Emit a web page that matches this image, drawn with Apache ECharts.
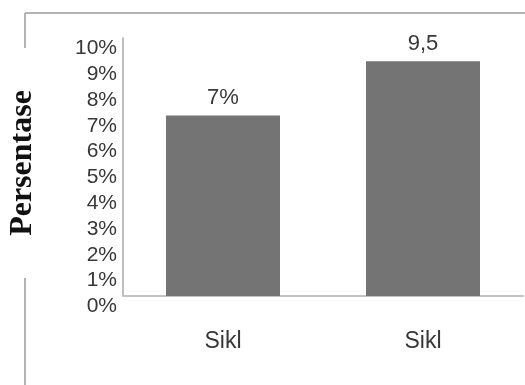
<!DOCTYPE html>
<html>
<head>
<meta charset="utf-8">
<script src="https://cdn.jsdelivr.net/npm/echarts@6/dist/echarts.min.js"></script>
<style>
html,body{margin:0;padding:0;background:#fff;}
#chart{width:525px;height:385px;}
</style>
</head>
<body>
<div id="chart"></div>
<script>
const categories = ["Sikl", "Sikl"];
const values = [7, 9.1];
const valueLabels = ["7%", "9,5"];
const yTickLabels = ["0%", "1%", "2%", "3%", "4%", "5%", "6%", "7%", "8%", "9%", "10%"];
const yTitle = "Persentase";

const FONT = '"Liberation Sans", "DejaVu Sans", sans-serif';
const chart = echarts.init(document.getElementById('chart'));
chart.setOption({
  animation: false,
  backgroundColor: '#ffffff',
  grid: { left: 123, right: 2, top: 38, bottom: 89 },
  xAxis: {
    type: 'category',
    data: categories,
    axisLine: { show: true, lineStyle: { color: '#c4c4c4', width: 2 } },
    axisTick: { show: false },
    axisLabel: { color: '#383838', fontFamily: FONT, fontSize: 23, lineHeight: 24, margin: 34 }
  },
  yAxis: {
    type: 'value',
    min: 0, max: 10, interval: 1,
    splitLine: { show: false },
    axisLine: { show: true, lineStyle: { color: '#a8a8a8', width: 1.5 } },
    axisTick: { show: false },
    axisLabel: {
      color: '#383838', fontFamily: FONT, fontSize: 21, lineHeight: 21,
      verticalAlign: 'top', margin: 6,
      formatter: function (v) { return yTickLabels[Math.round(v)]; }
    }
  },
  series: [{
    type: 'bar',
    data: values,
    barWidth: 114,
    itemStyle: { color: '#747474' },
    label: {
      show: true, position: 'top', distance: 5,
      color: '#383838', fontFamily: FONT, fontSize: 22, lineHeight: 24,
      formatter: function (p) { return valueLabels[p.dataIndex]; }
    }
  }],
  graphic: [
    { type: 'line', z: 0, shape: { x1: 25, y1: 13, x2: 525, y2: 13 }, style: { stroke: '#b4b4b4', lineWidth: 2 } },
    { type: 'line', z: 0, shape: { x1: 25, y1: 13, x2: 25, y2: 385 }, style: { stroke: '#b4b4b4', lineWidth: 2 } },
    { type: 'rect', z: 1, shape: { x: 0, y: 48, width: 65, height: 230 }, style: { fill: '#ffffff', stroke: null } },
    { type: 'text', z: 2, x: 23, y: 163, rotation: Math.PI / 2,
      style: { text: yTitle, fill: '#111111', font: 'bold 32px "Liberation Serif", "Times New Roman", serif',
               align: 'center', verticalAlign: 'middle' } }
  ]
});
</script>
</body>
</html>
